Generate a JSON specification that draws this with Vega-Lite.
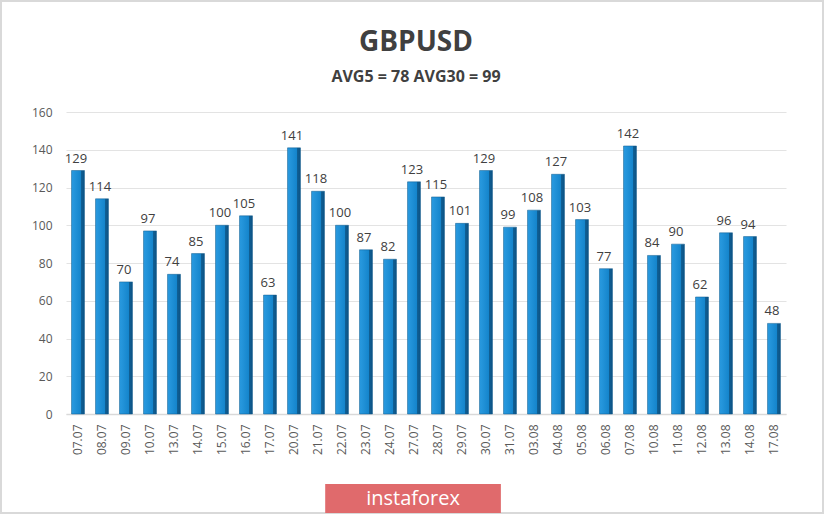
{
  "$schema": "https://vega.github.io/schema/vega-lite/v6.json",
  "width": 720,
  "height": 302,
  "autosize": "none",
  "padding": {"left": 66, "top": 112, "right": 39, "bottom": 101},
  "background": "white",
  "config": {
    "view": {"stroke": null},
    "font": "Open Sans"
  },
  "title": {
    "text": "GBPUSD",
    "subtitle": "AVG5 = 78 AVG30 = 99",
    "anchor": "middle",
    "frame": "group",
    "dx": -10,
    "offset": -85,
    "font": "Open Sans",
    "fontSize": 28,
    "fontWeight": "bold",
    "color": "#404040",
    "subtitleFont": "Open Sans",
    "subtitleFontSize": 16,
    "subtitleFontWeight": "bold",
    "subtitleColor": "#404040",
    "subtitlePadding": 12
  },
  "datasets": {
    "ranges": [
      {"date": "07.07", "value": 129},
      {"date": "08.07", "value": 114},
      {"date": "09.07", "value": 70},
      {"date": "10.07", "value": 97},
      {"date": "13.07", "value": 74},
      {"date": "14.07", "value": 85},
      {"date": "15.07", "value": 100},
      {"date": "16.07", "value": 105},
      {"date": "17.07", "value": 63},
      {"date": "20.07", "value": 141},
      {"date": "21.07", "value": 118},
      {"date": "22.07", "value": 100},
      {"date": "23.07", "value": 87},
      {"date": "24.07", "value": 82},
      {"date": "27.07", "value": 123},
      {"date": "28.07", "value": 115},
      {"date": "29.07", "value": 101},
      {"date": "30.07", "value": 129},
      {"date": "31.07", "value": 99},
      {"date": "03.08", "value": 108},
      {"date": "04.08", "value": 127},
      {"date": "05.08", "value": 103},
      {"date": "06.08", "value": 77},
      {"date": "07.08", "value": 142},
      {"date": "10.08", "value": 84},
      {"date": "11.08", "value": 90},
      {"date": "12.08", "value": 62},
      {"date": "13.08", "value": 96},
      {"date": "14.08", "value": 94},
      {"date": "17.08", "value": 48}
    ],
    "logo": [{"logo": "instaforex"}]
  },
  "layer": [
    {
      "data": {"name": "logo"},
      "mark": {
        "type": "rect",
        "x": {"expr": "-65"},
        "x2": {"expr": "width+37"},
        "y": {"expr": "-111"},
        "y2": {"expr": "height+99"},
        "fill": null,
        "stroke": "#d9d9d9",
        "strokeWidth": 2
      },
      "encoding": {}
    },
    {
      "data": {"name": "ranges"},
      "encoding": {
        "x": {
          "field": "date",
          "type": "ordinal",
          "sort": null,
          "title": null,
          "scale": {"paddingInner": 0.46, "paddingOuter": 0.23},
          "axis": {
            "labelAngle": 270,
            "labelFontSize": 12,
            "labelColor": "#595959",
            "labelPadding": 10,
            "ticks": false,
            "domainColor": "#d9d9d9",
            "domainWidth": 1.5
          }
        },
        "y": {
          "field": "value",
          "type": "quantitative",
          "title": null,
          "scale": {"domain": [0, 160]},
          "axis": {
            "values": [0, 20, 40, 60, 80, 100, 120, 140, 160],
            "labelFontSize": 12,
            "labelColor": "#595959",
            "labelPadding": 14,
            "ticks": false,
            "domain": false,
            "gridColor": "#e3e3e3",
            "gridWidth": 1.2
          }
        }
      },
      "layer": [
        {
          "mark": {
            "type": "bar",
            "fill": {
              "gradient": "linear",
              "x1": 0, "y1": 0, "x2": 1, "y2": 0,
              "stops": [
                {"offset": 0, "color": "#2a9be0"},
                {"offset": 0.7, "color": "#1585cc"},
                {"offset": 0.75, "color": "#0f5f94"},
                {"offset": 1, "color": "#0d5384"}
              ]
            },
            "stroke": "#0e5a8c",
            "strokeWidth": 0.5
          }
        },
        {
          "mark": {"type": "text", "dy": -12, "dx": -2, "fontSize": 13, "color": "#404040", "font": "Open Sans"},
          "encoding": {"text": {"field": "value", "type": "quantitative"}}
        }
      ]
    },
    {
      "data": {"name": "logo"},
      "mark": {
        "type": "rect",
        "x": {"expr": "width*0.36"},
        "x2": {"expr": "width*0.604"},
        "y": {"expr": "height+70"},
        "y2": {"expr": "height+99"},
        "fill": "#e06a6c"
      },
      "encoding": {}
    },
    {
      "data": {"name": "logo"},
      "mark": {
        "type": "text",
        "x": {"expr": "width*0.482"},
        "y": {"expr": "height+85"},
        "fontSize": 20,
        "color": "white",
        "font": "Open Sans",
        "align": "center",
        "baseline": "middle"
      },
      "encoding": {"text": {"field": "logo", "type": "nominal"}}
    }
  ]
}
